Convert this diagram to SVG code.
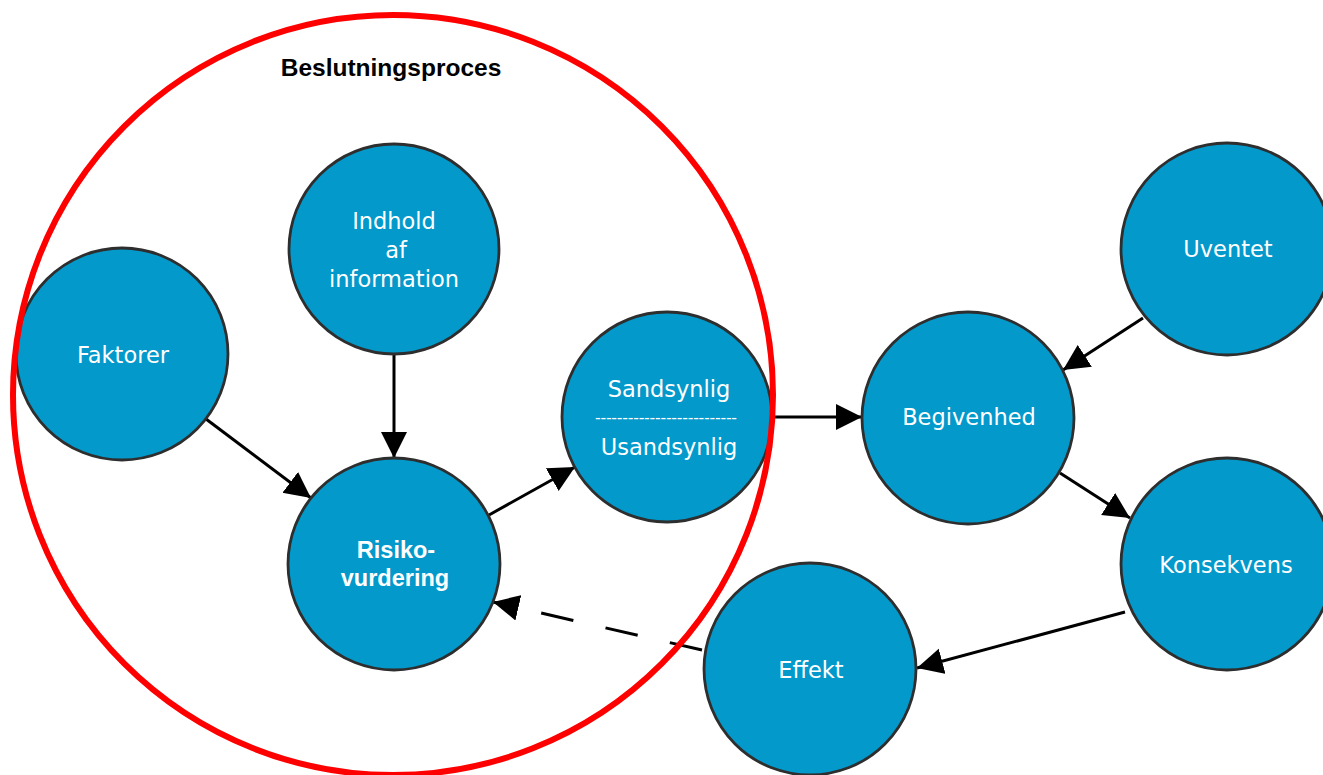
<svg xmlns="http://www.w3.org/2000/svg" width="1323" height="775" viewBox="0 0 1323 775">
  <style>
    .node { fill: #0399cb; stroke: #2e2e2e; stroke-width: 2.8; }
    .lbl { fill: #ffffff; font-family: "DejaVu Sans", "Liberation Sans", sans-serif; font-size: 22.5px; text-anchor: middle; }
    .bold { font-family: "Liberation Sans", Arial, sans-serif; font-weight: bold; font-size: 23.5px; }
    .edge { stroke: #000000; stroke-width: 3; fill: none; marker-end: url(#arrow); }
    .dashed { stroke-dasharray: 33 33; }
  </style>
  <defs>
    <marker id="arrow" markerUnits="userSpaceOnUse" markerWidth="27" markerHeight="27" refX="26" refY="13" orient="auto">
      <path d="M0,0 L26,13 L0,26 z" fill="#000000"/>
    </marker>
  </defs>

  <rect width="1323" height="775" fill="#ffffff"/>

  <!-- connectors -->
  <g id="connectors">
    <path class="edge" d="M394,354 L394,458"/>
    <path class="edge" d="M206,419 L311,498"/>
    <path class="edge" d="M489,515 L575,467"/>
    <path class="edge" d="M772,417 L862,417"/>
    <path class="edge" d="M1143,318 L1063,370"/>
    <path class="edge" d="M1060,473 L1130,518"/>
    <path class="edge" d="M1125,612 L917,668"/>
    <path class="edge dashed" d="M702,650 L493,602"/>
  </g>

  <!-- nodes -->
  <g id="node-indhold">
    <circle class="node" cx="394" cy="249" r="105"/>
    <text class="lbl" x="394" y="229">Indhold</text>
    <text class="lbl" x="396" y="258">af</text>
    <text class="lbl" x="394" y="287">information</text>
  </g>
  <g id="node-faktorer">
    <circle class="node" cx="122" cy="354" r="106"/>
    <text class="lbl" x="123" y="363">Faktorer</text>
  </g>
  <g id="node-risiko">
    <circle class="node" cx="394" cy="564" r="106"/>
    <text class="lbl bold" x="396" y="558">Risiko-</text>
    <text class="lbl bold" x="395" y="586">vurdering</text>
  </g>
  <g id="node-sandsynlig">
    <circle class="node" cx="667" cy="417" r="105"/>
    <text class="lbl" x="669" y="397">Sandsynlig</text>
    <text class="lbl" x="595" y="423" style="text-anchor:start;font-family:'Liberation Sans',Arial,sans-serif;font-size:17px" textLength="142" lengthAdjust="spacing">--------------------------</text>
    <text class="lbl" x="669" y="455">Usandsynlig</text>
  </g>
  <g id="node-begivenhed">
    <circle class="node" cx="968" cy="418" r="106"/>
    <text class="lbl" x="969" y="425">Begivenhed</text>
  </g>
  <g id="node-uventet">
    <circle class="node" cx="1227" cy="249" r="106"/>
    <text class="lbl" x="1228" y="257">Uventet</text>
  </g>
  <g id="node-konsekvens">
    <circle class="node" cx="1227" cy="564" r="106"/>
    <text class="lbl" x="1226" y="573">Konsekvens</text>
  </g>
  <g id="node-effekt">
    <circle class="node" cx="810" cy="669" r="106"/>
    <text class="lbl" x="811" y="678">Effekt</text>
  </g>

  <!-- decision process boundary -->
  <g id="group-beslutningsproces">
    <circle cx="393" cy="395" r="380" fill="none" stroke="#ff0000" stroke-width="6"/>
    <text x="391" y="76" font-family="'Liberation Sans', Arial, sans-serif" font-weight="bold" font-size="24.5px" text-anchor="middle" fill="#000000">Beslutningsproces</text>
  </g>
</svg>
